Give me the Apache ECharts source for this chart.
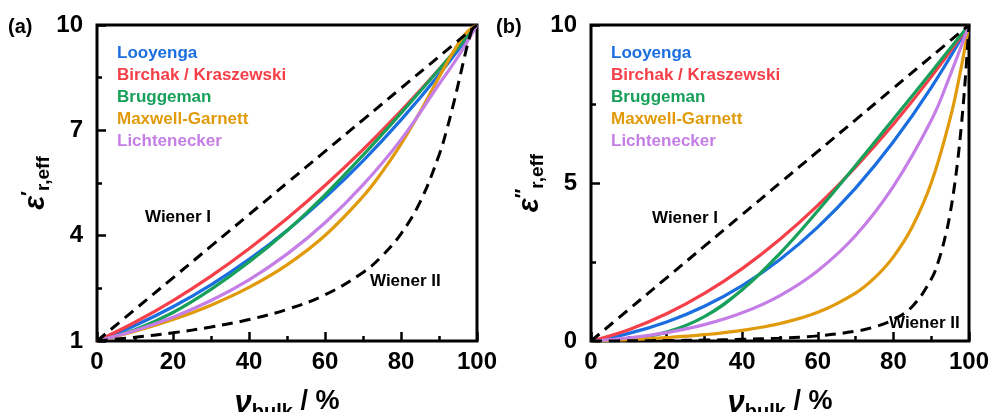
<!DOCTYPE html>
<html>
<head>
<meta charset="utf-8">
<script src="https://cdn.jsdelivr.net/npm/echarts@6/dist/echarts.min.js"></script>
<style>
  html, body { margin: 0; padding: 0; background: #fff; }
  #chart { width: 990px; height: 412px; }
</style>
</head>
<body>
<div id="chart"></div>
<script>
// volume fraction of bulk, %
const vBulk = [0, 10, 20, 30, 40, 50, 60, 70, 80, 90, 100]
const vLich = [0, 10, 20, 30, 40, 50, 60, 70, 80, 90, 95, 100]
const vMG = [0, 10, 20, 30, 40, 50, 60, 70, 75, 80, 85, 90, 95, 97.5, 100]
const vW2 = [0, 10, 20, 30, 40, 50, 60, 70, 75, 80, 85, 90, 92, 94, 95, 96, 97, 98, 99, 100]

// (a) real part
const looyengaRe = [1, 1.443, 1.975, 2.600, 3.324, 4.150, 5.085, 6.132, 7.297, 8.585, 10]
const birchakRe = [1, 1.535, 2.152, 2.849, 3.628, 4.487, 5.428, 6.449, 7.552, 8.735, 10]
const bruggemanRe = [1, 1.322, 1.812, 2.470, 3.248, 4.142, 5.164, 6.291, 7.489, 8.730, 10]
const maxwellRe = [1, 1.279, 1.613, 2.021, 2.527, 3.169, 4.004, 5.115, 5.808, 6.609, 7.522, 8.512, 9.455, 9.813, 10]
const lichRe = [1, 1.299, 1.678, 2.153, 2.744, 3.474, 4.367, 5.447, 6.736, 8.312, 9.096, 10]
const wiener1Re = [1, 1.9, 2.8, 3.7, 4.6, 5.5, 6.4, 7.3, 8.2, 9.1, 10]
const wiener2Re = [1, 1.105, 1.234, 1.398, 1.611, 1.900, 2.314, 2.953, 3.420, 4.054, 4.953, 6.291, 7.003, 7.834, 8.289, 8.758, 9.220, 9.634, 9.933, 10]

// (b) imaginary part
const looyengaIm = [0, 0.241, 0.601, 1.099, 1.753, 2.581, 3.604, 4.838, 6.303, 8.018, 10]
const birchakIm = [0, 0.359, 0.861, 1.504, 2.291, 3.220, 4.291, 5.504, 6.860, 8.359, 10]
const bruggemanIm = [0, 0.070, 0.280, 0.770, 1.619, 2.775, 4.120, 5.553, 7.022, 8.508, 10]
const maxwellIm = [0, 0.044, 0.107, 0.199, 0.338, 0.554, 0.907, 1.518, 1.996, 2.663, 3.613, 4.997, 7.036, 8.387, 10]
const lichIm = [0, 0.102, 0.266, 0.517, 0.892, 1.439, 2.225, 3.338, 4.894, 6.975, 8.408, 10]
const wiener1Im = [0, 1, 2, 3, 4, 5, 6, 7, 8, 9, 10]
const wiener2Im = [0, 0.006, 0.015, 0.029, 0.052, 0.091, 0.162, 0.309, 0.446, 0.676, 1.094, 1.952, 2.557, 3.441, 4.038, 4.777, 5.696, 6.842, 8.264, 10]

const leftTicks = [1, 4, 7, 10]
const leftMinor = [2.5, 5.5, 8.5]

const names = ['Looyenga', 'Birchak / Kraszewski', 'Bruggeman', 'Maxwell-Garnett', 'Lichtenecker']
const colors = ['#1a6ee0', '#f5404a', '#17a05a', '#e09a0a', '#c57ee6']

const FONT = 'Liberation Sans, Arial, sans-serif'

function pairs(xs, ys) {
  return xs.map((x, i) => [x, ys[i]])
}

function curve(name, color, xs, ys, idx) {
  return {
    name: name,
    type: 'line',
    xAxisIndex: idx,
    yAxisIndex: idx === 0 ? 0 : 2,
    data: pairs(xs, ys),
    smooth: 0.4,
    showSymbol: false,
    lineStyle: { color: color, width: 3.2 },
    itemStyle: { color: color },
    z: 2
  }
}

function dashed(name, xs, ys, idx) {
  return {
    name: name,
    type: 'line',
    xAxisIndex: idx,
    yAxisIndex: idx === 0 ? 0 : 2,
    data: pairs(xs, ys),
    smooth: 0.4,
    showSymbol: false,
    lineStyle: { color: '#000', width: 3, type: [11, 7] },
    z: 3
  }
}

function xAxis(gridIndex) {
  return {
    type: 'value',
    gridIndex: gridIndex,
    min: 0,
    max: 100,
    interval: 20,
    axisLine: { show: false },
    splitLine: { show: false },
    axisTick: { inside: true, length: 9, lineStyle: { color: '#000', width: 2.5 } },
    minorTick: { show: true, splitNumber: 2, length: 5, lineStyle: { color: '#000', width: 2.5 } },
    axisLabel: { color: '#000', fontSize: 24, fontWeight: 'bold', fontFamily: FONT, margin: 9 },
    name: '{v|ν}{b|bulk}{s| / %}',
    nameLocation: 'middle',
    nameGap: 47,
    nameTextStyle: {
      rich: {
        v: { fontSize: 31, fontStyle: 'italic', fontWeight: 'bold', fontFamily: FONT, color: '#000', lineHeight: 34, verticalAlign: 'top' },
        b: { fontSize: 20, fontWeight: 'bold', fontFamily: FONT, color: '#000', verticalAlign: 'bottom', lineHeight: 20 },
        s: { fontSize: 27, fontWeight: 'bold', fontFamily: FONT, color: '#000', lineHeight: 34, verticalAlign: 'top' }
      }
    }
  }
}

function yName(primes) {
  return {
    name: '{e|ε}{p|' + primes + '}{s|r,eff}',
    nameLocation: 'middle',
    nameRotate: 90,
    nameGap: 44,
    nameMoveOverlap: false,
    nameTextStyle: {
      rich: {
        e: { fontSize: 29, fontStyle: 'italic', fontWeight: 'bold', fontFamily: FONT, color: '#000', lineHeight: 34, verticalAlign: 'middle' },
        p: { fontSize: 20, fontWeight: 'bold', fontFamily: FONT, color: '#000', verticalAlign: 'top', lineHeight: 20 },
        s: { fontSize: 19, fontWeight: 'bold', fontFamily: FONT, color: '#000', verticalAlign: 'bottom', lineHeight: 22 }
      }
    }
  }
}

const labelStyle = { color: '#000', fontSize: 24, fontWeight: 'bold', fontFamily: FONT }

const chart = echarts.init(document.getElementById('chart'))

const series = []
const reData = [looyengaRe, birchakRe, bruggemanRe, maxwellRe, lichRe]
const imData = [looyengaIm, birchakIm, bruggemanIm, maxwellIm, lichIm]
const xsFor = [vBulk, vBulk, vBulk, vMG, vLich]
for (let i = 0; i < names.length; i++) {
  series.push(curve(names[i], colors[i], xsFor[i], reData[i], 0))
}
series.push(dashed('Wiener I', vBulk, wiener1Re, 0))
series.push(dashed('Wiener II', vW2, wiener2Re, 0))
for (let i = 0; i < names.length; i++) {
  series.push(curve(names[i], colors[i], xsFor[i], imData[i], 1))
}
series.push(dashed('Wiener I', vBulk, wiener1Im, 1))
series.push(dashed('Wiener II', vW2, wiener2Im, 1))

function legend(left) {
  return {
    left: left,
    top: 40,
    orient: 'vertical',
    icon: 'rect',
    itemWidth: 0,
    itemHeight: 0,
    itemGap: 5,
    selectedMode: false,
    textStyle: { fontSize: 17, fontWeight: 'bold', fontFamily: FONT },
    data: names.map((n, i) => ({ name: n, textStyle: { color: colors[i] } }))
  }
}

function note(text, x, y) {
  return {
    type: 'text',
    left: x,
    top: y,
    style: { text: text, fill: '#000', font: 'bold 17px ' + FONT }
  }
}

const gridBase = {
  top: 25, height: 316, show: true, borderColor: '#000', borderWidth: 3,
  backgroundColor: 'transparent', containLabel: false, outerBoundsMode: 'none'
}

chart.setOption({
  animation: false,
  grid: [
    Object.assign({ left: 97, width: 380 }, gridBase),
    Object.assign({ left: 591, width: 378 }, gridBase)
  ],
  xAxis: [xAxis(0), xAxis(1)],
  yAxis: [
    Object.assign({
      type: 'value', gridIndex: 0, min: 1, max: 10,
      axisLine: { show: false }, splitLine: { show: false },
      axisTick: { inside: true, length: 9, customValues: leftTicks, lineStyle: { color: '#000', width: 2.5 } },
      axisLabel: Object.assign({ margin: 14, customValues: leftTicks }, labelStyle)
    }, yName('′')),
    {
      type: 'value', gridIndex: 0, min: 1, max: 10, position: 'left',
      axisLine: { show: false }, splitLine: { show: false },
      axisTick: { inside: true, length: 5, customValues: leftMinor, lineStyle: { color: '#000', width: 2.5 } },
      axisLabel: { show: false }
    },
    Object.assign({
      type: 'value', gridIndex: 1, min: 0, max: 10, interval: 5,
      axisLine: { show: false }, splitLine: { show: false },
      axisTick: { inside: true, length: 9, lineStyle: { color: '#000', width: 2.5 } },
      minorTick: { show: true, splitNumber: 2, length: 5, lineStyle: { color: '#000', width: 2.5 } },
      axisLabel: Object.assign({ margin: 14 }, labelStyle)
    }, yName('″'))
  ],
  legend: [legend(107), legend(601)],
  graphic: [
    { type: 'text', left: 8, top: 17, style: { text: '(a)', fill: '#000', font: 'bold 20px ' + FONT } },
    { type: 'text', left: 496, top: 17, style: { text: '(b)', fill: '#000', font: 'bold 20px ' + FONT } },
    note('Wiener I', 145, 209),
    note('Wiener II', 370, 273),
    note('Wiener I', 652, 210),
    note('Wiener II', 889, 315)
  ],
  series: series
})
</script>
</body>
</html>
